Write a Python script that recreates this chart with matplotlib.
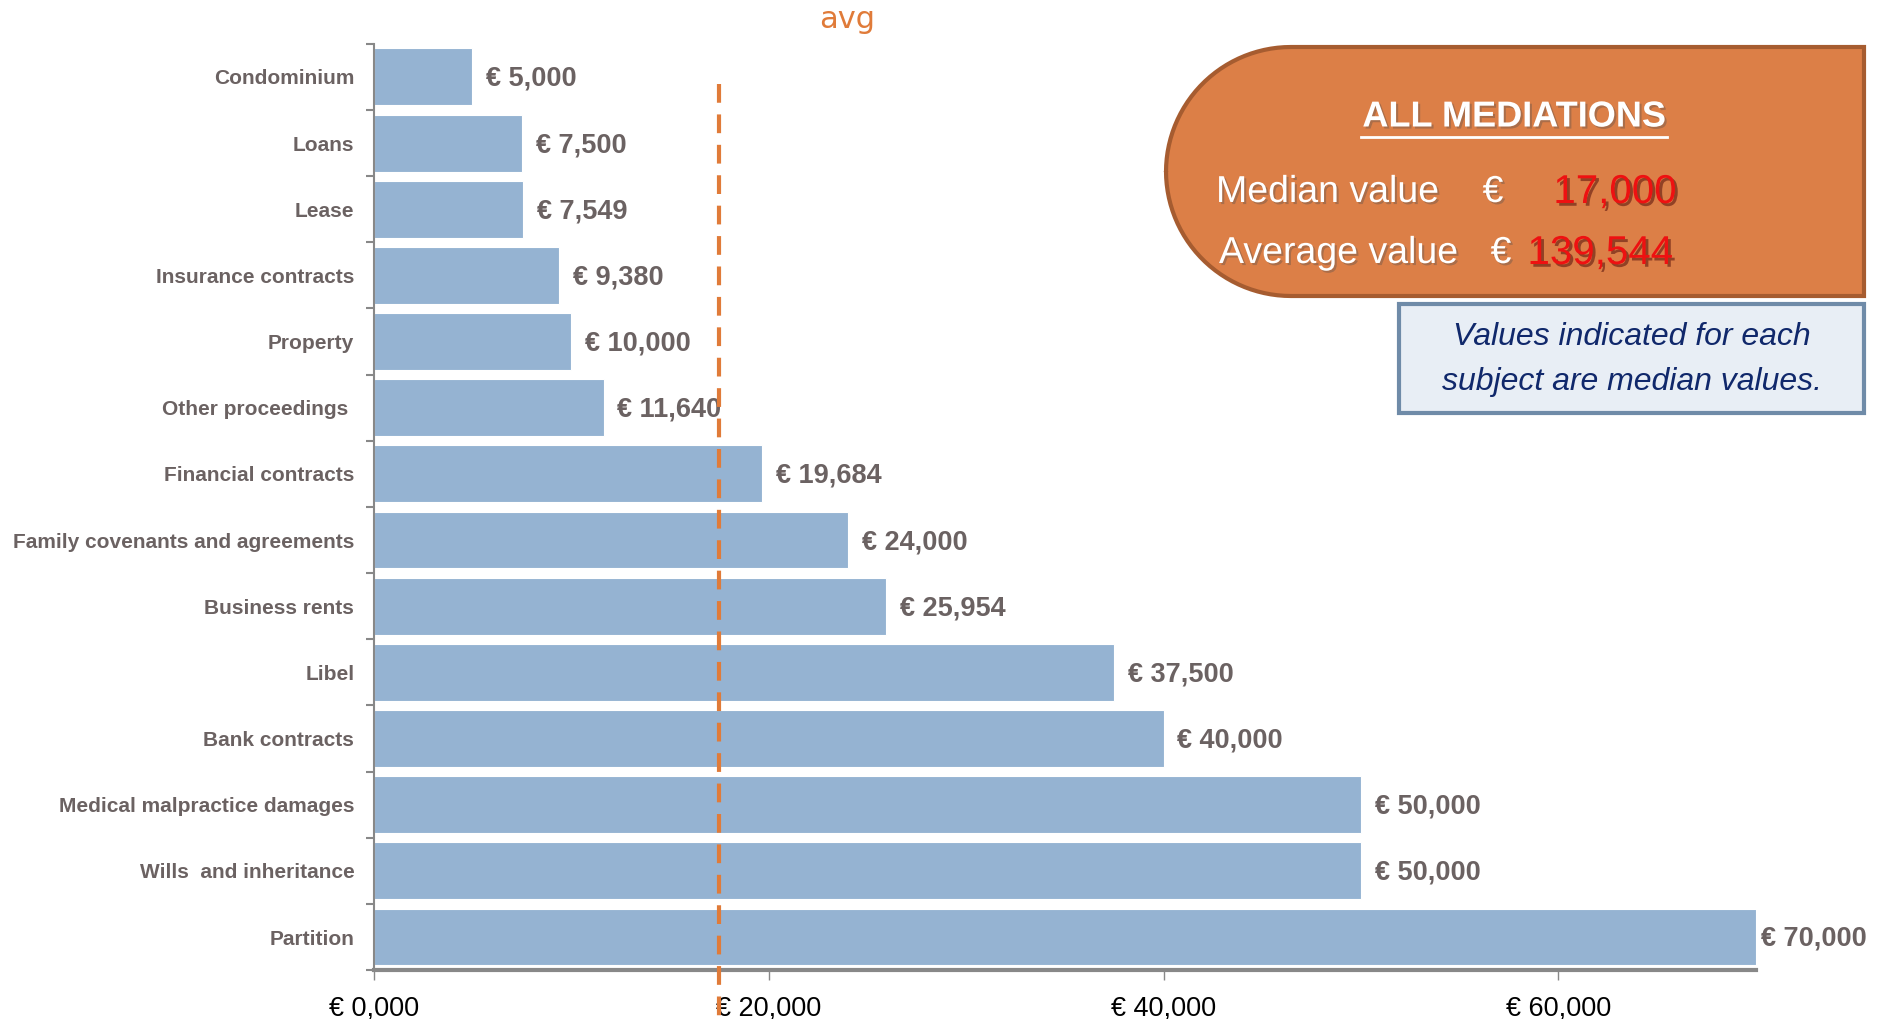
import numpy as np
import matplotlib.pyplot as plt
import matplotlib.patheffects as pe
from matplotlib.patches import Polygon, Rectangle
from matplotlib.transforms import blended_transform_factory

plt.rcParams['font.family'] = ['Liberation Sans', 'DejaVu Sans']

categories = ["Condominium", "Loans", "Lease", "Insurance contracts", "Property",
              "Other proceedings ", "Financial contracts", "Family covenants and agreements",
              "Business rents", "Libel", "Bank contracts", "Medical malpractice damages",
              "Wills  and inheritance", "Partition"]
values = [5000, 7500, 7549, 9380, 10000, 11640, 19684, 24000, 25954, 37500, 40000,
          50000, 50000, 70000]
avg_line = 17500
xticks = [0, 20000, 40000, 60000]
xtick_labels = ["€ 0,000", "€ 20,000", "€ 40,000", "€ 60,000"]

W, H = 1878, 1019
fig = plt.figure(figsize=(W / 100, H / 100), dpi=100)
ax = fig.add_axes([0.199, 0.048, 0.736, 0.909])

grey = "#6b6262"
y = np.arange(len(categories))
ax.barh(y, values, height=0.86, color="#95b3d2", edgecolor="white", linewidth=0.8)
ax.set_ylim(13.48, -0.5)
ax.set_xlim(0, 70000)

for yi, v in zip(y, values):
    off = 4 if v == max(values) else 10
    ax.annotate("€ {:,}".format(v), (v, yi + 0.03), xytext=(off, 0), textcoords="offset points",
                va="center", ha="left", fontsize=19.5, fontweight="bold", color=grey)

ax.set_yticks(y)
ax.set_yticklabels(categories, fontsize=15, fontweight="bold", color=grey)
ax.tick_params(axis="y", length=0, pad=14)
ax.set_yticks(np.arange(-0.5, len(categories), 1), minor=True)
ax.tick_params(axis="y", which="minor", length=6, width=1.5, color="#888888")

ax.set_xticks(xticks)
ax.set_xticklabels(xtick_labels, fontsize=19.5, color="black")
ax.tick_params(axis="x", length=7, width=1, color="#888888", pad=11)

for s in ["top", "right"]:
    ax.spines[s].set_visible(False)
ax.spines["left"].set_color("#888888")
ax.spines["left"].set_linewidth(1.5)
ax.spines["bottom"].set_color("#888888")
ax.spines["bottom"].set_linewidth(3)

# average dashed line, running past the axis
tr = blended_transform_factory(ax.transData, ax.transAxes)
ax.plot([avg_line, avg_line], [0.957, -0.052], transform=tr, clip_on=False,
        color="#e07b39", lw=3, dashes=(4.5, 2.8), zorder=5)
fig.text(847 / W, 1 - 20 / H, "avg", color="#e07b39", fontsize=22,
         family="DejaVu Sans", ha="center", va="center")

# orange summary box with rounded left side
x0, x1, y0, y1 = 1166, 1864, 47, 296
r = 125
pts = [(x1, y0), (x1, y1)]
for a in np.linspace(np.pi / 2, np.pi, 30):
    pts.append((x0 + r + r * np.cos(a), y1 - r + r * np.sin(a)))
for a in np.linspace(np.pi, 1.5 * np.pi, 30):
    pts.append((x0 + r + r * np.cos(a), y0 + r + r * np.sin(a)))
pts = [(px / W, 1 - py / H) for px, py in pts]
fig.patches.append(Polygon(pts, closed=True, transform=fig.transFigure,
                           facecolor="#dc7f47", edgecolor="#a65c30", lw=3))

shadow = [pe.withSimplePatchShadow(offset=(1.5, -1.5), alpha=0.35)]
red_shadow = [pe.withSimplePatchShadow(offset=(2, -2), alpha=0.5)]
fig.text(1514 / W, 1 - 117 / H, "ALL MEDIATIONS", color="white", fontsize=26,
         fontweight="bold", ha="center", va="center", path_effects=shadow)
fig.add_artist(plt.Line2D([1361 / W, 1667 / W], [1 - 137 / H, 1 - 137 / H],
                          color="white", lw=2))
fig.text(1216 / W, 1 - 192 / H, "Median value", color="white", fontsize=27,
         ha="left", va="center", path_effects=shadow)
fig.text(1493 / W, 1 - 192 / H, "€", color="white", fontsize=27,
         ha="center", va="center", path_effects=shadow)
fig.text(1677 / W, 1 - 192 / H, "17,000", color="#ee1111", fontsize=29,
         ha="right", va="center", path_effects=red_shadow)
fig.text(1219 / W, 1 - 253 / H, "Average value", color="white", fontsize=27,
         ha="left", va="center", path_effects=shadow)
fig.text(1501 / W, 1 - 253 / H, "€", color="white", fontsize=27,
         ha="center", va="center", path_effects=shadow)
fig.text(1673 / W, 1 - 253 / H, "139,544", color="#ee1111", fontsize=29,
         ha="right", va="center", path_effects=red_shadow)

# blue note box
bx0, bx1, by0, by1 = 1399, 1864, 304, 413
fig.patches.append(Rectangle((bx0 / W, 1 - by1 / H), (bx1 - bx0) / W, (by1 - by0) / H,
                             transform=fig.transFigure, facecolor="#e8eef5",
                             edgecolor="#6f8ba8", lw=3))
fig.text(1632 / W, 1 - 337 / H, "Values indicated for each", color="#10286b",
         fontsize=23, style="italic", ha="center", va="center")
fig.text(1632 / W, 1 - 382 / H, "subject are median values.", color="#10286b",
         fontsize=23, style="italic", ha="center", va="center")

fig.savefig("out.png", dpi=100)
